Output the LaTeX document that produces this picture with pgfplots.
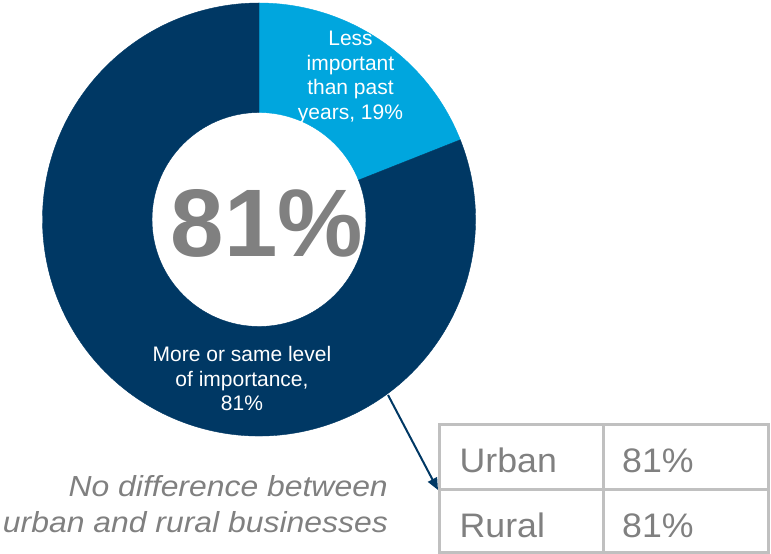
\documentclass[border=0pt]{standalone}
\usepackage{fontspec}
\setmainfont{Liberation Sans}
\usepackage{pgfplots}
\pgfplotsset{compat=1.18}
\usetikzlibrary{arrows.meta}
\definecolor{navy}{RGB}{0,56,100}
\definecolor{sky}{RGB}{0,166,222}
\definecolor{txtgray}{RGB}{128,128,128}
\definecolor{linegray}{RGB}{192,192,192}

\pgfdeclareplotmark{nothing}{}
% one annular sector per row: s and e are the start and end share in percent
\pgfplotsset{donut/.style={only marks, scatter, mark=nothing,
    visualization depends on={\thisrow{s} \as \ps},
    visualization depends on={\thisrow{e} \as \pe},
    scatter/@pre marker code/.code={%
      \pgfmathsetmacro\aa{90-3.6*\ps}%
      \pgfmathsetmacro\ab{90-3.6*\pe}%
      \fill[#1] (\aa:216.5pt) arc[start angle=\aa, end angle=\ab, radius=216.5pt]
        -- (\ab:107pt) arc[start angle=\ab, end angle=\aa, radius=107pt] -- cycle;},
    scatter/@post marker code/.code={}}}

\begin{document}
\begin{tikzpicture}
\begin{axis}[x=1pt, y=1pt, xmin=0, xmax=771, ymin=0, ymax=554,
    y dir=reverse, hide axis, clip=false, scale only axis,
    set layers, mark layer=axis background]
\addplot[donut=sky] table[row sep=\\]{x y s e\\ 259 219.5 0 19\\};
\addplot[donut=navy] table[row sep=\\]{x y s e\\ 259 219.5 19 100\\};

% slice labels
\begin{pgfonlayer}{axis foreground}
\node[white, font=\fontsize{21}{21}\selectfont, anchor=base] at (axis cs:350.5,46) {Less};
\node[white, font=\fontsize{21}{21}\selectfont, anchor=base] at (axis cs:350.5,70.5) {important};
\node[white, font=\fontsize{21}{21}\selectfont, anchor=base] at (axis cs:350.5,95) {than past};
\node[white, font=\fontsize{21}{21}\selectfont, anchor=base] at (axis cs:350.5,119.5) {years, 19\%};
\node[white, font=\fontsize{21}{21}\selectfont, anchor=base] at (axis cs:242,362) {More or same level};
\node[white, font=\fontsize{21}{21}\selectfont, anchor=base] at (axis cs:242,387) {of importance,};
\node[white, font=\fontsize{21}{21}\selectfont, anchor=base] at (axis cs:242,411) {81\%};

% centre figure
\node[txtgray, font=\fontsize{96}{96}\selectfont\bfseries, anchor=base] at (axis cs:267,257) {81\%};

% note
\node[txtgray, font=\fontsize{29}{29}\selectfont\itshape, anchor=base east, inner sep=0pt] at (axis cs:388,497) {\scalebox{1.1}[1]{No difference between}};
\node[txtgray, font=\fontsize{29}{29}\selectfont\itshape, anchor=base east, inner sep=0pt] at (axis cs:388,533) {\scalebox{1.1}[1]{urban and rural businesses}};

\draw[navy, line width=2pt, -{Triangle[length=12pt,width=10pt]}] (axis cs:388,395) -- (axis cs:438,490);

% small table
\draw[linegray, line width=3pt] (axis cs:439,425) rectangle (axis cs:768,552.5);
\draw[linegray, line width=3pt] (axis cs:439,490) -- (axis cs:768,490);
\draw[linegray, line width=3pt] (axis cs:603,425) -- (axis cs:603,552.5);
\node[txtgray, font=\fontsize{34}{34}\selectfont, anchor=base west, inner sep=0pt] at (axis cs:459.5,473) {\scalebox{1.05}[1]{Urban}};
\node[txtgray, font=\fontsize{34}{34}\selectfont, anchor=base west, inner sep=0pt] at (axis cs:622,473) {\scalebox{1.05}[1]{81\%}};
\node[txtgray, font=\fontsize{34}{34}\selectfont, anchor=base west, inner sep=0pt] at (axis cs:459.5,538) {\scalebox{1.05}[1]{Rural}};
\node[txtgray, font=\fontsize{34}{34}\selectfont, anchor=base west, inner sep=0pt] at (axis cs:622,538) {\scalebox{1.05}[1]{81\%}};
\end{pgfonlayer}
\end{axis}
\pgfresetboundingbox
\path (current axis.south west) rectangle (current axis.north east);
\end{tikzpicture}
\end{document}
